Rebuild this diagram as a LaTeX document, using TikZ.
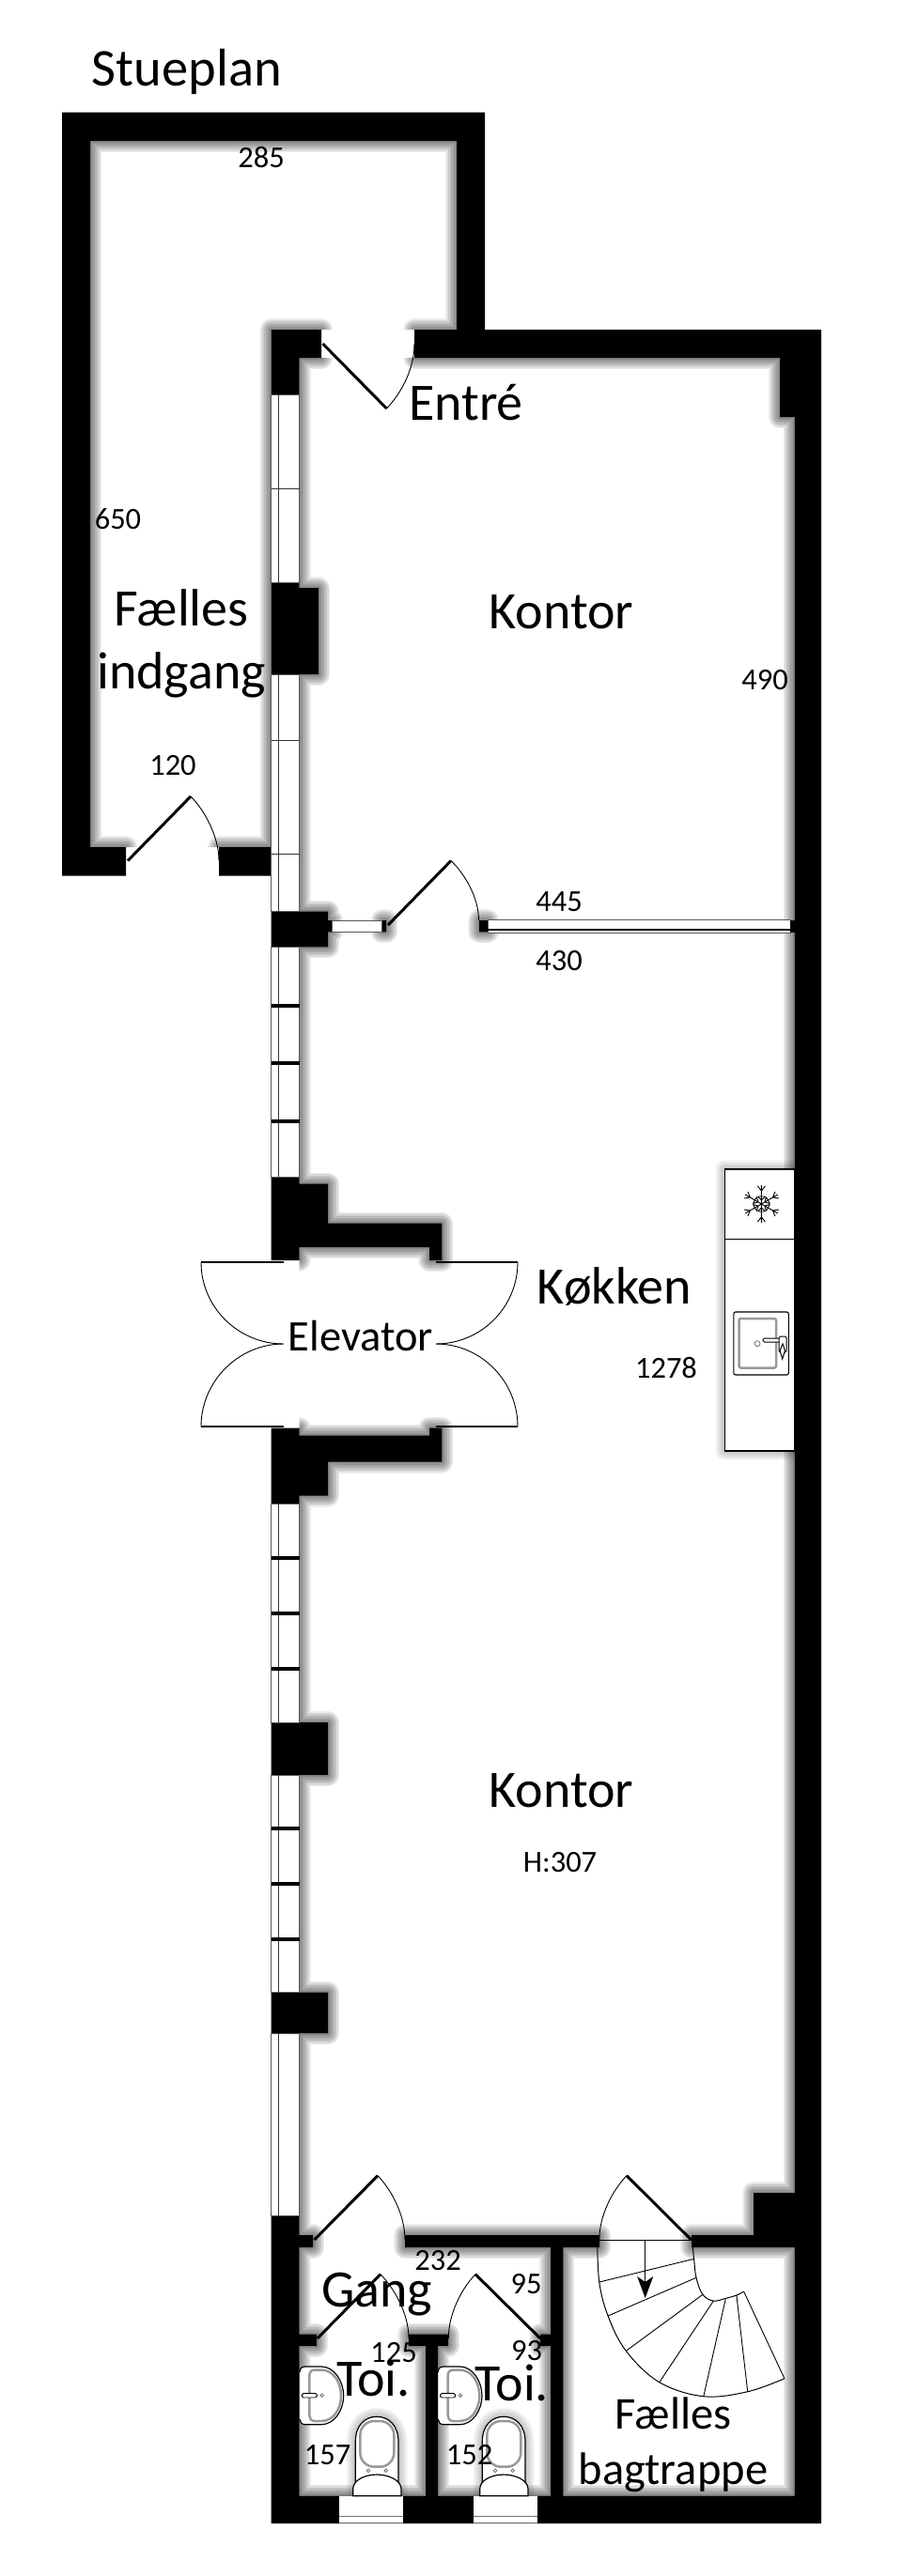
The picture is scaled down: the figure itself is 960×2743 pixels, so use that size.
\documentclass[tikz,border=0pt]{standalone}
\usepackage{fontspec}
\setmainfont{Carlito}
\usetikzlibrary{arrows.meta}
\tikzset{
  lbl/.style={inner sep=0pt,anchor=base,text=black},
  big/.style={lbl,font=\fontsize{56}{60}\selectfont},
  mid/.style={lbl,font=\fontsize{48.5}{52}\selectfont},
  elev/.style={lbl,font=\fontsize{46.5}{50}\selectfont},
  num/.style={lbl,font=\fontsize{32.5}{36}\selectfont},
  leaf/.style={draw=black,line width=3pt},
  swing/.style={draw=black,line width=0.9pt},
  pane/.style={fill=white,draw=black!65,line width=1pt},
  bar/.style={fill=black},
  thin/.style={draw=black!80,line width=0.8pt},
  seat/.style={draw=black!40,line width=2.5pt},
  fixture/.style={fill=white,draw=black,line width=1.2pt},
}
\def\wallpath{
 (66,119.6) rectangle (516,150)
 (66,119.6) rectangle (96,932.6)
 (486,119.6) rectangle (516,381)
 (66,902) rectangle (134,932.6)
 (233,902) rectangle (288.5,932.6)
 (288.5,351) rectangle (342,381)
 (441,351) rectangle (874,381)
 (288.5,351) rectangle (318.6,1342)
 (288.5,1520.7) rectangle (318.6,2687)
 (318.6,626) rectangle (339,718)
 (318.6,970.7) rectangle (349,1008.3)
 (349,980) rectangle (353,992.3)
 (406.7,980) rectangle (411,992.3)
 (510,980) rectangle (519,992.3)
 (318.6,1260.7) rectangle (349,1328)
 (318.6,1302.7) rectangle (470.3,1328)
 (457,1302.7) rectangle (470.3,1342)
 (318.6,1528.7) rectangle (470.3,1556.7)
 (318.6,1528.7) rectangle (349,1592.7)
 (457,1520.7) rectangle (470.3,1556.7)
 (318.6,1834) rectangle (349,1890)
 (318.6,2121.7) rectangle (349,2165)
 (845.5,351) rectangle (874,2687)
 (830,351) rectangle (874,444)
 (802,2335) rectangle (874,2393)
 (318.6,2380) rectangle (333,2393)
 (431,2380) rectangle (638,2393)
 (736,2380) rectangle (874,2393)
 (586,2393) rectangle (599.4,2657.7)
 (318.6,2485.7) rectangle (337,2498)
 (435,2485.7) rectangle (477,2498)
 (575,2485.7) rectangle (599.4,2498)
 (453,2498) rectangle (466,2657.7)
 (288.5,2657.7) rectangle (874,2687)
}
\def\glowextra{
 (771,1245) rectangle (846,1545)
 (378.3,2657) -- (378.3,2600) .. controls (378.3,2583) and (388,2573.3) .. (401,2573.3) .. controls (414,2573.3) and (424,2583) .. (424,2600) -- (424,2657) -- cycle
 (513.3,2657) -- (513.3,2600) .. controls (513.3,2583) and (523,2573.3) .. (536,2573.3) .. controls (549,2573.3) and (559,2583) .. (559,2600) -- (559,2657) -- cycle
}
\newcommand{\toiletat}[1]{%
 \begin{scope}[xshift=#1pt]
  \draw[fixture] (378.3,2645) -- (378.3,2600) .. controls (378.3,2583) and (388,2573.3) .. (401,2573.3) .. controls (414,2573.3) and (424,2583) .. (424,2600) -- (424,2645) -- cycle;
  \draw[seat,rounded corners=15pt] (383.3,2578) rectangle (419.3,2626.7);
  \draw[draw=black!60,line width=0.7pt] (392,2630.7) circle (1.8pt) (410.7,2630.7) circle (1.8pt);
  \draw[fixture] (375.7,2657.7) -- (375.7,2650) .. controls (376,2641) and (388,2635) .. (401,2635) .. controls (414,2635) and (426.5,2641) .. (427,2650) -- (427,2657.7) -- cycle;
 \end{scope}}
\newcommand{\basinat}[1]{%
 \begin{scope}[xshift=#1pt]
  \draw[fixture] (319,2526) .. controls (319,2522) and (321,2520) .. (325,2520) -- (342,2520) .. controls (356,2520) and (365.7,2536) .. (365.7,2551) .. controls (365.7,2566) and (356,2581.7) .. (342,2581.7) -- (325,2581.7) .. controls (321,2581.7) and (319,2579) .. (319,2576);
  \draw[seat] (329.3,2530) .. controls (329.3,2526) and (331,2523.5) .. (335,2523.5) -- (342,2523.5) .. controls (355,2523.5) and (363,2537) .. (363,2551) .. controls (363,2565) and (355,2578) .. (342,2578) -- (335,2578) .. controls (331,2578) and (329.3,2575) .. (329.3,2572) -- cycle;
  \draw[fixture,line width=0.9pt,rounded corners=1.5pt] (321.3,2548.6) rectangle (337.3,2553);
  \draw[draw=black!60,line width=0.7pt] (342.7,2550.7) circle (1.8pt);
 \end{scope}}
\begin{document}
\begin{tikzpicture}[x=1pt,y=-1pt]
\useasboundingbox (0,0) rectangle (960,2743);
% soft shadows, kept inside the rooms
\begin{scope}
 \clip (96,150) rectangle (486,351) (96,150) rectangle (288.5,902) (318.6,381) rectangle (845.5,2657.7);
 \foreach \w in {3,6,9,12,15,18,21,24}{
  \draw[line width=\w pt,draw=black,opacity=0.075,line join=round] \wallpath;
 }
 \foreach \w in {3,7,11,15,19}{
  \draw[line width=\w pt,draw=black,opacity=0.05,line join=round] \glowextra;
 }
\end{scope}
% walls
\fill[black] \wallpath;
% windows in the left wall
\foreach \a/\b in {420/620.5,718/970.7,1008.3/1253.3,1601/1834,1890/2121.7,2165/2359}{
 \draw[pane] (288.8,\a) rectangle (318.6,\b);
 \draw[thin] (296.3,\a) -- (296.3,\b);
}
\foreach \y in {520,788,909}{ \draw[thin] (288.8,\y) -- (318.6,\y); }
\foreach \y in {1071,1132,1194,1659,1718,1777,1947,2006,2065}{ \fill[bar] (288.5,\y-2) rectangle (318.6,\y+2); }
% inner glazed wall
\draw[pane] (353,980) rectangle (406.7,992.3);
\draw[pane] (519,979.5) rectangle (841,993.3);
\draw[draw=black,line width=1.5pt] (519,989.8) -- (841,989.8);
\fill[black] (841,980) rectangle (846,993);
% windows in the back wall
\foreach \a/\b in {361/429,504/572.3}{
 \fill[white] (\a,2657.7) rectangle (\b,2687);
 \draw[draw=black!55,line width=1pt] (\a,2657.7) -- (\b,2657.7) (\a,2679.3) -- (\b,2679.3) (\a,2686.6) -- (\b,2686.6);
}
% kitchen
\draw[fixture] (771.5,1245) rectangle (845.5,1545);
\draw[draw=black,line width=1.1pt] (771.5,1319.3) -- (845.5,1319.3);
\begin{scope}[shift={(810.4,1282)},x=1pt,y=1pt]
 \foreach \r in {30,90,150,210,270,330}{
  \begin{scope}[rotate=\r]
   \draw[draw=black,line width=0.9pt] (0,0) -- (20,0) (14,0) -- (19,4) (14,0) -- (19,-4) (4,0) -- (8,4) (4,0) -- (8,-4) (8,4) -- (8,-4);
  \end{scope}
 }
\end{scope}
\draw[fixture,rounded corners=2pt,line width=1.1pt] (780.8,1397) rectangle (839.3,1464);
\draw[seat,rounded corners=2pt] (786.5,1404) rectangle (826,1456.5);
\draw[draw=black!60,line width=0.7pt] (806,1430.7) circle (3pt);
\draw[fixture,rounded corners=1.5pt,line width=1pt] (812,1425) rectangle (836,1429);
\draw[fixture,rounded corners=1.5pt,line width=1pt] (829,1423) rectangle (837,1440);
\draw[fixture,line width=1pt] (830,1438) -- (832.7,1447) -- (835.5,1438) -- (833,1431) -- cycle;
% toilets and basins
\toiletat{0}
\toiletat{135}
\basinat{0}
\basinat{147.3}
% stairs
\draw[draw=black,line width=1pt] (635.7,2385.3) -- (736.5,2385.3);
\draw[draw=black,line width=1pt] plot[smooth,tension=0.6] coordinates {(635.7,2385.3) (637.8,2430) (647.1,2466) (666.3,2503.3) (701.8,2536.7) (748.8,2551.7) (795.7,2546.7) (834.9,2532.7)};
\draw[draw=black,line width=1pt] plot[smooth,tension=0.6] coordinates {(736.5,2385.3) (738.6,2405.3) (741,2425.3) (747.9,2443.3) (759.4,2450) (772.4,2447.3) (783.9,2444) (791.6,2440)};
\draw[draw=black,line width=0.9pt] (637.8,2430) -- (738.6,2405.3) (647.1,2466) -- (741,2425.3) (666.3,2503.3) -- (747.9,2443.3) (701.8,2536.7) -- (759.4,2450) (748.8,2551.7) -- (772.4,2447.3) (795.7,2546.7) -- (783.9,2444) (834.9,2532.7) -- (791.6,2440);
\coordinate (stairtop) at (686.7,2385.3);
\coordinate (stairend) at (686.7,2447);
\draw[draw=black,line width=1pt,-{Stealth[length=23pt,width=17pt,inset=6pt]}] (stairtop) -- (stairend);
% doors
\draw[leaf] (343.5,366) -- (411.5,435);
\draw[swing] (411.5,435) .. controls (425,421) and (441,395) .. (441,366);
\draw[leaf] (136,916.5) -- (203,848);
\draw[swing] (203,848) .. controls (217,862) and (233,890) .. (233,916.5);
\draw[leaf] (413,985) -- (480,916.5);
\draw[swing] (480,916.5) .. controls (494,930) and (509.5,955) .. (509.5,980);
\draw[leaf] (334.5,2385) -- (402,2316.7);
\draw[swing] (402,2316.7) .. controls (416,2331) and (431,2358) .. (431,2385);
\draw[leaf] (735.7,2385) -- (667,2316.7);
\draw[swing] (667,2316.7) .. controls (653,2331) and (637.8,2358) .. (637.8,2385);
\draw[leaf] (337.8,2490) -- (405,2421.7);
\draw[swing] (405,2421.7) .. controls (419,2436) and (435,2463) .. (435,2490);
\draw[leaf] (575,2490) -- (506,2421.7);
\draw[swing] (506,2421.7) .. controls (492,2436) and (477.3,2463) .. (477.3,2490);
% elevator doors
\draw[leaf,line width=2.5pt] (214,1344) -- (301.7,1344) (464,1344) -- (551,1344) (214,1519) -- (301.7,1519) (464,1519) -- (551,1519);
\draw[swing] (214,1344) .. controls (214,1392) and (253.7,1431) .. (301.7,1431);
\draw[swing] (551,1344) .. controls (551,1392) and (512,1431) .. (464,1431);
\draw[swing] (214,1519) .. controls (214,1471) and (253.7,1431) .. (301.7,1431);
\draw[swing] (551,1519) .. controls (551,1471) and (512,1431) .. (464,1431);
% labels
\node[big,font=\fontsize{56.5}{60}\selectfont] (title) at (199,91.5) {Stueplan};
\node[num] (n285) at (278,178.6) {285};
\node[num] (n650) at (125.5,563.4) {650};
\node[big] (faelles) at (193,666.5) {Fælles};
\node[big] (indgang) at (193,733.5) {indgang};
\node[big] (kontorA) at (597.5,669.6) {Kontor};
\node[big] (entre) at (496,447.3) {Entré};
\node[num] (n490) at (814,734.8) {490};
\node[num] (n120) at (184,825) {120};
\node[num] (n445) at (595,970) {445};
\node[num] (n430) at (595,1033.5) {430};
\node[big] (kokken) at (654,1388.8) {Køkken};
\node[elev] (elevator) at (384,1438) {Elevator};
\node[num] (n1278) at (709,1467) {1278};
\node[big] (kontorB) at (597.5,1924.5) {Kontor};
\node[num] (h307) at (596,1993.7) {H:307};
\node[big] (gang) at (401,2456.7) {Gang};
\node[num] (n232) at (466,2417.7) {232};
\node[num] (n95) at (560,2442.7) {95};
\node[num] (n125) at (419,2515.3) {125};
\node[num] (n93) at (560.5,2513.3) {93};
\node[big] (toiA) at (397.5,2551.7) {Toi.};
\node[big] (toiB) at (544.7,2556.7) {Toi.};
\node[num] (n157) at (348.5,2624) {157};
\node[num] (n152) at (499.5,2624) {152};
\node[mid] (faellesB) at (716.5,2586) {Fælles};
\node[mid] (bagtrappe) at (716.5,2645) {bagtrappe};
\end{tikzpicture}
\end{document}
